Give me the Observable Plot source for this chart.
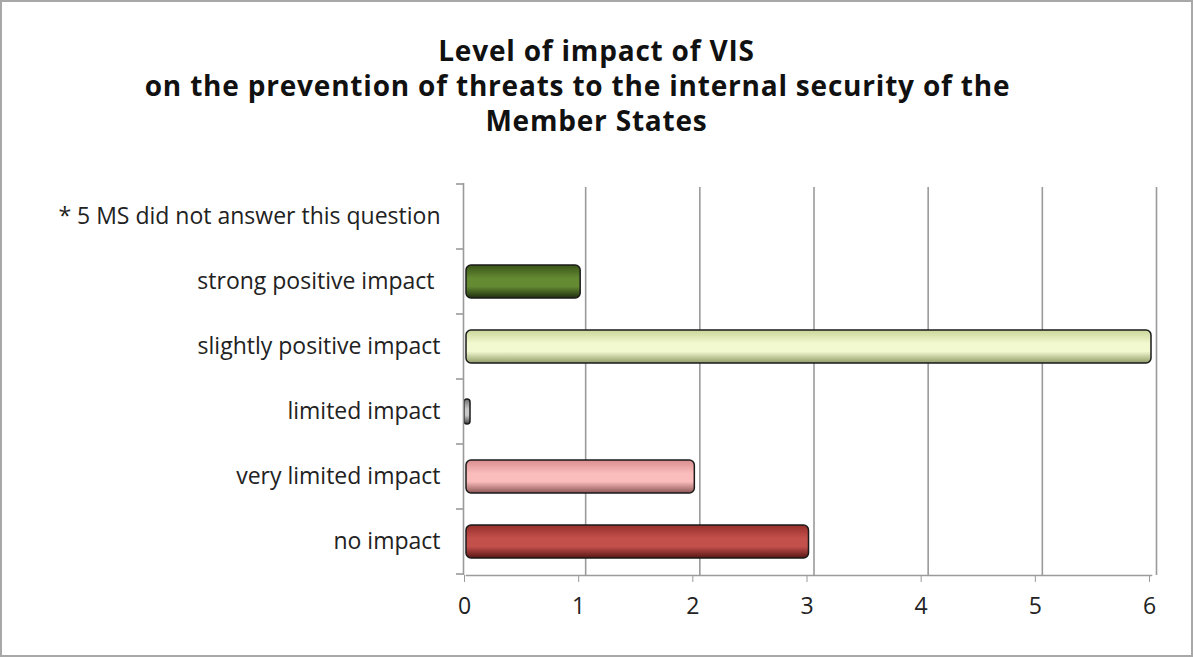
<!DOCTYPE html>
<html><head><meta charset="utf-8">
<script src="https://cdn.jsdelivr.net/npm/d3@7"></script>
<script src="https://cdn.jsdelivr.net/npm/@observablehq/plot@0.6"></script>
<style>
html,body{margin:0;padding:0;background:#fff;}
#wrap{box-sizing:border-box;width:1193px;height:657px;border:2px solid #a8a8a8;position:relative;overflow:hidden;background:#fff;}
#title{font-family:"Open Sans",Lato,sans-serif;font-weight:bold;font-size:28px;letter-spacing:0.8px;line-height:35px;text-align:center;color:#111;padding-top:31px;height:129px;box-sizing:content-box;}
#title .l2{display:inline-block;padding-right:38px;}
#chart svg{display:block;}
</style></head>
<body><div id="wrap"><div id="title">Level of impact of VIS<br><span class="l2">on the prevention of threats to the internal security of the</span><br>Member States</div><div id="chart"></div></div>
<script>
const categories = ["* 5 MS did not answer this question", "strong positive impact ", "slightly positive impact", "limited impact", "very limited impact", "no impact"];
const values = [null, 1, 6, 0, 2, 3];
const gradTop = [null, "#3a5419", "#c9d69a", "#707070", "#d98e8e", "#952f2b"];
const gradMid = [null, "#648a32", "#f2f8cf", "#c8c8c8", "#fbbcbc", "#c4504b"];
const gradBot = [null, "#1f2e10", "#8f9c68", "#404040", "#8e5656", "#571715"];
const xTicks = [0, 1, 2, 3, 4, 5, 6];

const data = categories.map((c, i) => ({cat: c, value: values[i], grad: `url(#g${i})`})).filter(d => d.value != null);

const font = '"Open Sans", Lato, sans-serif';
const plot = Plot.plot({
  width: 1189,
  height: 470,
  marginLeft: 464,
  marginRight: 40,
  marginTop: 21,
  marginBottom: 57,
  style: {fontFamily: font, fontSize: "23px", color: "#222", background: "transparent"},
  x: {domain: [0, 6], ticks: xTicks, label: null, tickFormat: d3.format("d")},
  y: {domain: categories, label: null, padding: 0},
  color: {type: "identity"},
  marks: [
    Plot.ruleX(xTicks.slice(1), {stroke: "#9a9a9a", strokeWidth: 1.6, dx: 5, insetTop: 4}),
    Plot.barX(data.filter(d => d.value > 0), {y: "cat", x: "value", fill: "grad", stroke: "#1a1a1a", strokeWidth: 1.5, rx: 5, insetTop: 16, insetBottom: 16}),
    Plot.barX(data.filter(d => d.value === 0), {y: "cat", x1: 0, x2: "value", fill: "grad", stroke: "#1a1a1a", strokeWidth: 1.5, rx: 3, insetTop: 20, insetBottom: 20, insetLeft: -2, insetRight: -4}),
    Plot.ruleX([0], {stroke: "#9a9a9a", strokeWidth: 1.6, dx: -3}),
    Plot.frame({anchor: "bottom", stroke: "#9a9a9a", strokeWidth: 1.6}),
    Plot.axisX({ticks: xTicks, tickFormat: d3.format("d"), tickSize: 7, tickPadding: 15, stroke: "#9a9a9a", fontSize: "23px", fill: "#222", dx: -2}),
    Plot.axisY({tickSize: 0, tickPadding: 26, fontSize: "23px", fill: "#222"})
  ]
});
document.getElementById("chart").appendChild(plot);

const svg = d3.select(plot);
const defs = svg.insert("defs", ":first-child");
values.forEach((v, i) => {
  if (v == null) return;
  const g = defs.append("linearGradient").attr("id", `g${i}`).attr("x1", 0).attr("y1", 0).attr("x2", 0).attr("y2", 1);
  g.append("stop").attr("offset", "0%").attr("stop-color", gradTop[i]);
  g.append("stop").attr("offset", "40%").attr("stop-color", gradMid[i]);
  g.append("stop").attr("offset", "65%").attr("stop-color", gradMid[i]);
  g.append("stop").attr("offset", "100%").attr("stop-color", gradBot[i]);
});
// boundary tick marks on the category axis, from the y scale
const ys = plot.scale("y");
const xs = plot.scale("x");
const x0 = xs.apply(0) - 3;
const bounds = categories.map(c => ys.apply(c)).concat([ys.apply(categories[categories.length - 1]) + ys.step]);
svg.append("g").selectAll("line").data(bounds).join("line")
  .attr("x1", x0 - 7).attr("x2", x0).attr("y1", d => d).attr("y2", d => d)
  .attr("stroke", "#9a9a9a").attr("stroke-width", 1.6);
</script></body></html>
